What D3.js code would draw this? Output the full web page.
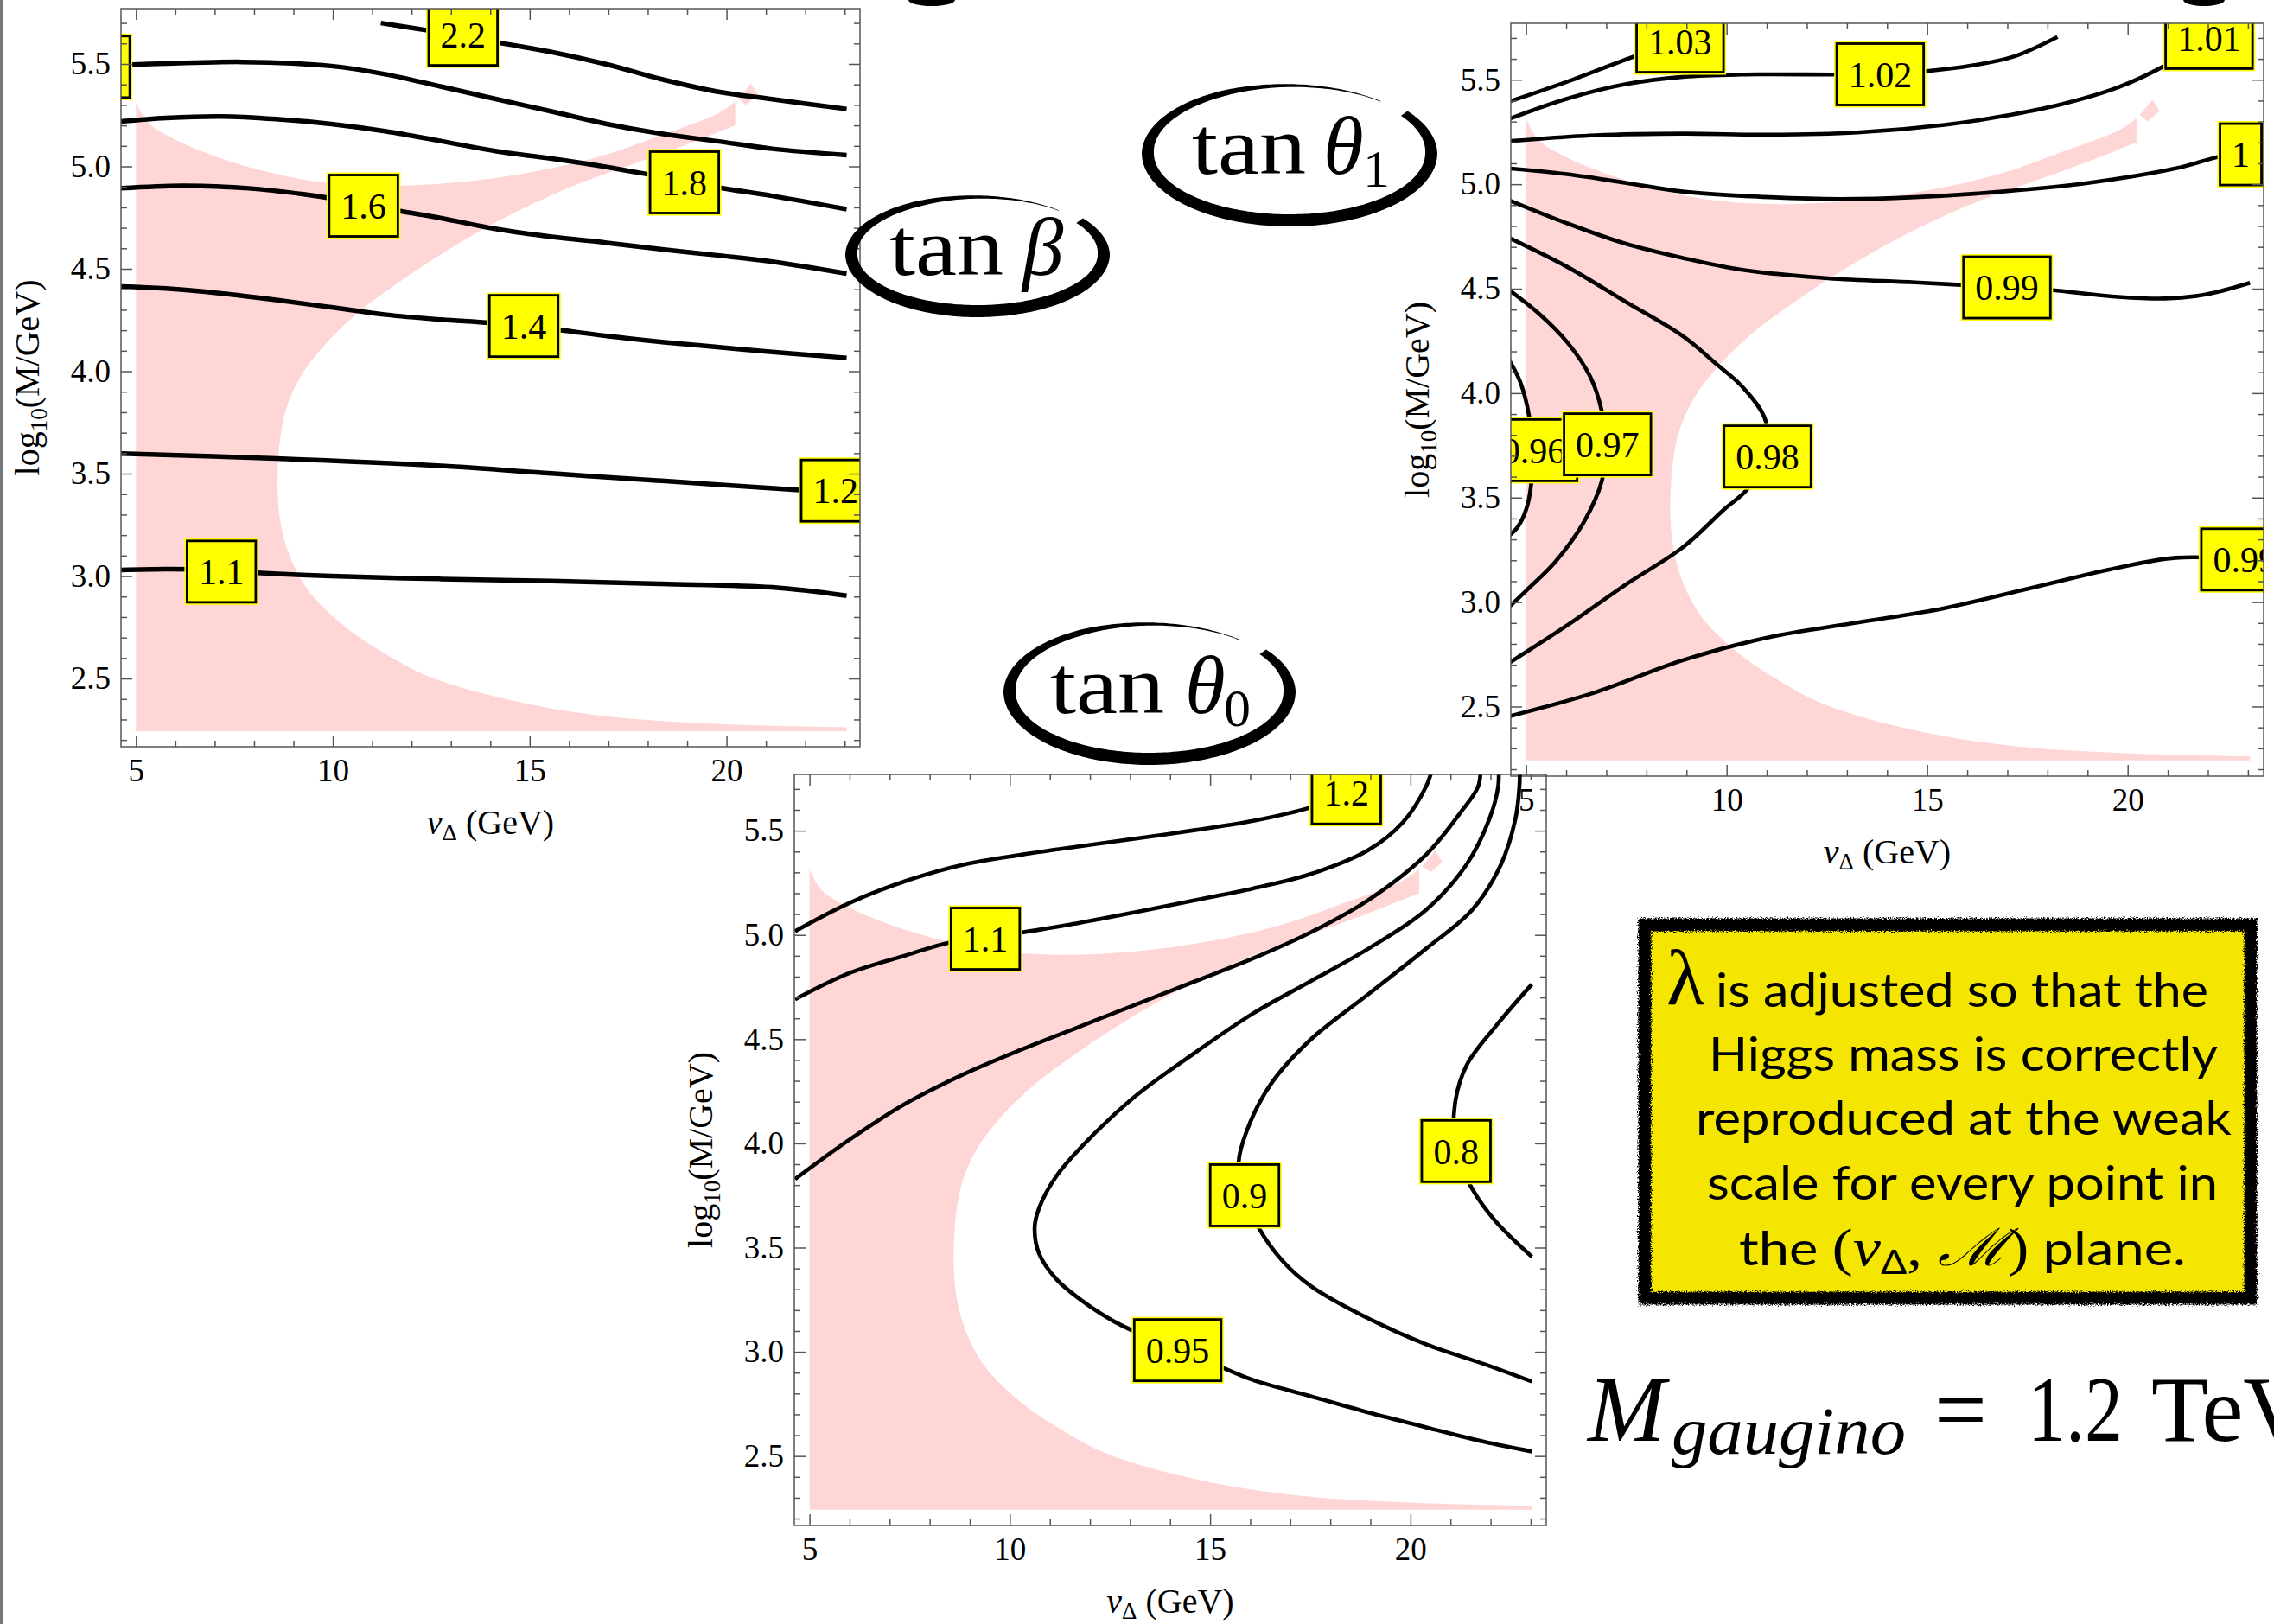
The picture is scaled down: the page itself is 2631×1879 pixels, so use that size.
<!DOCTYPE html>
<html><head><meta charset="utf-8">
<script src="https://cdn.jsdelivr.net/npm/d3@7"></script>
<style>body{margin:0;background:#fff;} svg{display:block}</style>
</head><body>
<svg id="c" width="2631" height="1879"></svg>
<script>
// ---------------- DATA ----------------
const xMajorTicks = [5, 10, 15, 20];
const yMajorTicks = [2.5, 3.0, 3.5, 4.0, 4.5, 5.0, 5.5];
const xDomain = [4.62, 23.39];
const yDomain = [2.167, 5.77];

// allowed (pink) region, shared by the three panels, in (v_Delta, log10 M)
const regionBottom = [[5.0, 5.315], [5.0, 2.243], [23.05, 2.243], [23.05, 2.262]];
const regionInner = [[23.05, 2.262], [21.0, 2.27], [19.0, 2.285], [17.5, 2.305], [16.0, 2.34], [14.5, 2.395], [13.2, 2.46],
  [12.2, 2.53], [11.3, 2.625], [10.5, 2.725], [9.8, 2.84], [9.3, 2.95], [8.9, 3.1], [8.68, 3.25], [8.6, 3.4], [8.6, 3.5],
  [8.65, 3.65], [8.82, 3.82], [9.2, 3.98], [9.8, 4.13], [10.6, 4.28], [11.5, 4.41], [12.5, 4.54], [13.7, 4.68],
  [15.0, 4.81], [16.3, 4.92], [17.6, 5.01], [18.9, 5.1], [20.22, 5.2]];
const regionOuter = [[20.22, 5.316], [19.8, 5.26], [18.3, 5.15], [16.9, 5.055], [15.4, 4.985], [14.0, 4.94], [12.5, 4.912],
  [11.1, 4.905], [9.6, 4.925], [8.2, 4.98], [7.0, 5.05], [6.0, 5.13], [5.3, 5.215], [5.0, 5.315]];
const regionTip = [[20.3, 5.33], [20.62, 5.405], [20.8, 5.35], [20.5, 5.3]];

// tan beta panel
const tanBetaLevels = ["1.1", "1.2", "1.4", "1.6", "1.8", "2.0", "2.2"];
const tanBetaLines = [
  [[4.62,3.03],[5.76,3.034],[7.16,3.03],[8.0,3.017],[9.96,3.0],[12.76,2.986],[15.56,2.976],[18.36,2.962],[21.16,2.945],[23.05,2.904]],
  [[4.62,3.598],[8.56,3.574],[12.76,3.538],[15.56,3.501],[18.36,3.465],[21.86,3.42],[23.05,3.405]],
  [[4.62,4.414],[5.76,4.404],[7.16,4.38],[8.56,4.348],[9.96,4.312],[11.36,4.276],[12.76,4.252],[14.02,4.235],[15.7,4.203],[16.96,4.172],[18.36,4.143],[19.76,4.118],[21.16,4.094],[23.05,4.065]],
  [[4.62,4.893],[6.18,4.905],[7.86,4.893],[9.26,4.864],[9.96,4.844],[11.64,4.784],[12.76,4.747],[14.16,4.694],[15.56,4.656],[16.96,4.627],[18.36,4.595],[19.76,4.566],[21.16,4.535],[23.05,4.477]],
  [[4.62,5.219],[5.76,5.236],[7.16,5.244],[8.56,5.231],[9.96,5.207],[11.36,5.171],[12.76,5.123],[14.16,5.074],[15.56,5.038],[16.96,4.997],[18.08,4.958],[19.76,4.898],[21.16,4.856],[23.05,4.791]],
  [[4.62,5.495],[5.76,5.502],[7.72,5.51],[9.96,5.49],[11.36,5.449],[12.76,5.389],[14.16,5.328],[15.56,5.268],[16.96,5.207],[18.36,5.159],[19.76,5.123],[21.16,5.086],[23.05,5.055]],
  [[11.22,5.70],[12.48,5.662],[13.31,5.64],[14.16,5.606],[15.56,5.558],[16.96,5.498],[18.36,5.425],[19.76,5.365],[21.16,5.328],[23.05,5.28]]
];
const tanBetaLabelPos = [[7.17,3.022],[22.77,3.417],[14.85,4.221],[10.78,4.808],[18.93,4.922],[3.97,5.486],[13.31,5.643]];

// tan theta1 panel
const tanTheta1Levels = ["1.03", "1.02", "1.01", "1", "0.99", "0.98", "0.96", "0.97", "0.99"];
const tanTheta1Lines = [
  [[4.57,5.395],[6.02,5.49],[7.76,5.616],[8.84,5.683],[9.5,5.73]],
  [[4.57,5.312],[6.02,5.409],[7.47,5.478],[8.91,5.514],[10.36,5.525],[12.75,5.525],[13.83,5.526],[14.89,5.539],[16.15,5.569],[17.16,5.611],[18.25,5.705]],
  [[4.57,5.206],[6.74,5.234],[8.91,5.242],[11.09,5.237],[13.26,5.248],[15.43,5.284],[16.87,5.325],[18.32,5.381],[19.77,5.464],[21.0,5.575],[22.03,5.70]],
  [[4.57,5.076],[6.02,5.048],[7.47,5.007],[8.91,4.965],[11.09,4.938],[12.82,4.929],[14.7,4.938],[16.87,4.965],[19.04,5.007],[21.2,5.076],[22.3,5.132],[22.82,5.143]],
  [[4.57,4.924],[6.02,4.813],[7.47,4.716],[8.91,4.647],[10.36,4.591],[12.53,4.55],[14.7,4.53],[16.99,4.506],[18.06,4.494],[19.77,4.461],[20.93,4.453],[21.94,4.472],[23.05,4.528]],
  [[4.57,4.744],[6.02,4.605],[7.47,4.439],[8.91,4.273],[9.78,4.134],[10.36,4.037],[10.94,3.885],[11.05,3.72],[10.51,3.539],[9.93,3.442],[8.91,3.262],[7.47,3.082],[6.02,2.888],[4.57,2.708]],
  [[4.57,4.162],[4.86,4.051],[5.08,3.885],[5.15,3.724],[5.12,3.553],[5.0,3.442],[4.79,3.359],[4.57,3.317]],
  [[4.57,4.494],[5.3,4.384],[6.02,4.245],[6.6,4.079],[6.89,3.913],[6.99,3.755],[6.89,3.58],[6.45,3.386],[5.73,3.193],[5.0,3.054],[4.57,2.976]],
  [[4.57,2.453],[6.74,2.569],[8.91,2.722],[11.09,2.833],[13.26,2.902],[15.43,2.971],[17.6,3.068],[19.77,3.165],[21.2,3.212],[22.92,3.204]]
];
const tanTheta1LabelPos = [[8.84,5.683],[13.83,5.526],[22.03,5.70],[22.82,5.143],[16.99,4.506],[11.02,3.697],[5.19,3.727],[7.03,3.755],[22.92,3.204]];

// tan theta0 panel
const tanTheta0Levels = ["1.2", "1.1", "1", "0.95", "0.9", "0.8"];
const tanTheta0Lines = [
  [[4.64,5.018],[5.98,5.152],[7.42,5.26],[8.86,5.338],[10.3,5.385],[11.74,5.425],[13.18,5.463],[14.63,5.503],[16.07,5.547],[17.51,5.612],[18.4,5.68]],
  [[4.64,4.691],[5.98,4.816],[7.42,4.903],[8.53,4.965],[9.39,4.98],[10.27,5.01],[11.74,5.058],[13.18,5.111],[14.63,5.167],[16.07,5.223],[17.51,5.292],[18.95,5.407],[19.81,5.54],[20.39,5.712],[20.55,5.8]],
  [[4.64,3.829],[5.98,4.016],[7.42,4.193],[8.86,4.333],[10.3,4.451],[11.74,4.56],[13.18,4.669],[14.63,4.778],[16.07,4.887],[17.51,5.012],[18.95,5.167],[20.39,5.385],[21.25,5.587],[21.69,5.712],[21.75,5.8]],
  [[22.2,5.8],[22.19,5.712],[21.97,5.556],[21.4,5.338],[20.39,5.12],[18.95,4.934],[17.51,4.778],[16.07,4.623],[14.63,4.436],[13.18,4.234],[12.03,4.031],[11.17,3.845],[10.73,3.689],[10.62,3.596],[10.73,3.471],[11.17,3.347],[11.74,3.254],[12.61,3.145],[14.19,3.008],[15.27,2.927],[16.07,2.865],[17.51,2.787],[18.95,2.709],[20.39,2.638],[21.83,2.569],[23.03,2.522]],
  [[22.73,5.8],[22.72,5.712],[22.62,5.556],[22.26,5.338],[21.54,5.12],[20.39,4.934],[18.95,4.716],[17.51,4.498],[16.5,4.28],[15.92,4.063],[15.71,3.907],[15.86,3.751],[16.21,3.596],[16.79,3.44],[17.51,3.316],[18.95,3.16],[20.39,3.036],[21.83,2.942],[23.03,2.858]],
  [[23.03,4.763],[22.12,4.56],[21.4,4.374],[21.11,4.187],[21.14,3.963],[21.54,3.782],[22.12,3.627],[23.03,3.456]]
];
const tanTheta0LabelPos = [[18.4,5.68],[9.39,4.982],null,[14.19,3.008],[15.86,3.751],[21.14,3.963]];

const noteLines = ["is adjusted so that the", "Higgs mass is correctly", "reproduced at the weak", "scale for every point in"];

// ---------------- DRAW ----------------
const svg = d3.select('#c');
const defs = svg.append('defs');
const f = defs.append('filter').attr('id','rough').attr('x','-5%').attr('y','-5%').attr('width','110%').attr('height','110%');
f.append('feTurbulence').attr('type','fractalNoise').attr('baseFrequency','0.7').attr('numOctaves',2).attr('result','n');
f.append('feDisplacementMap').attr('in','SourceGraphic').attr('in2','n').attr('scale',8).attr('xChannelSelector','R').attr('yChannelSelector','G');

svg.append('rect').attr('x',0).attr('y',0).attr('width',3).attr('height',1879).attr('fill','#777');

const PINK = '#ffd6d6';
const SERIF = "'Liberation Serif','Times New Roman',serif";
const xMinor = d3.range(5, 24, 1).filter(v => !xMajorTicks.includes(v));
const yMinor = d3.range(22, 58).map(v => v / 10).filter(v => Math.round(v * 10) % 5 !== 0);

function drawPanel(p) {
  const x = d3.scaleLinear().domain(xDomain).range([p.x0, p.x1]);
  const y = d3.scaleLinear().domain(yDomain).range([p.y1, p.y0]);
  const g = svg.append('g');
  const cid = 'clip' + p.id;
  defs.append('clipPath').attr('id', cid).append('rect')
    .attr('x', p.x0).attr('y', p.y0).attr('width', p.x1 - p.x0).attr('height', p.y1 - p.y0);
  const inner = g.append('g').attr('clip-path', `url(#${cid})`);

  const lin = d3.line().x(d => x(d[0])).y(d => y(d[1]));
  const cur = d3.line().x(d => x(d[0])).y(d => y(d[1])).curve(d3.curveCatmullRom.alpha(0.5));
  const regionD = lin(regionBottom) + cur(regionInner).replace(/^M/, 'L') + cur(regionOuter).replace(/^M/, 'L') + 'Z';
  inner.append('path').attr('d', regionD).attr('fill', PINK);
  inner.append('path').attr('d', lin(regionTip) + 'Z').attr('fill', PINK);

  p.lines.forEach(l => inner.append('path').attr('d', cur(l)).attr('fill', 'none')
    .attr('stroke', '#000').attr('stroke-width', p.lw).attr('stroke-linejoin', 'round'));

  p.labels.forEach((pos, i) => {
    if (!pos) return;
    const lg = inner.append('g');
    const cx = x(pos[0]), cy = y(pos[1]);
    const inside = cx > p.x0 && cx < p.x1;
    const t = lg.append('text').attr('x', cx).attr('y', cy).attr('dy', '0.35em')
      .attr('text-anchor', 'middle').attr('font-family', SERIF).attr('font-size', 42).text(p.levels[i]);
    const w = t.node().getComputedTextLength() + 27, h = 71;
    if (!inside) t.remove();   // label centred outside the frame: only its box edge shows
    lg.insert('rect', ':first-child').attr('x', cx - w / 2).attr('y', cy - h / 2).attr('width', w).attr('height', h)
      .attr('fill', '#ffff00').attr('stroke', '#000').attr('stroke-width', 2.8);
    lg.insert('rect', ':first-child').attr('x', cx - w / 2 - 3).attr('y', cy - h / 2 - 3).attr('width', w + 6).attr('height', h + 6)
      .attr('fill', '#ffff00');
  });

  const styleAxis = sel => {
    sel.select('.domain').remove();
    sel.selectAll('.tick line').attr('stroke', '#555').attr('stroke-width', 1.5);
    sel.attr('font-family', SERIF).attr('font-size', 37);
    sel.selectAll('.tick text').attr('fill', '#000');
  };
  const ax = (fn, vals, size, fmt, tr, pad) => g.append('g').attr('transform', tr)
    .call(fn.tickValues(vals).tickSize(size).tickPadding(pad || 0).tickFormat(fmt)).call(styleAxis);
  ax(d3.axisBottom(x), xMajorTicks, -13, d3.format('d'), `translate(0,${p.y1})`, 14);
  ax(d3.axisBottom(x), xMinor, -7, () => '', `translate(0,${p.y1})`);
  ax(d3.axisTop(x), xMajorTicks, -13, () => '', `translate(0,${p.y0})`);
  ax(d3.axisTop(x), xMinor, -7, () => '', `translate(0,${p.y0})`);
  ax(d3.axisLeft(y), yMajorTicks, -13, d3.format('.1f'), `translate(${p.x0},0)`, 12);
  ax(d3.axisLeft(y), yMinor, -7, () => '', `translate(${p.x0},0)`);
  ax(d3.axisRight(y), yMajorTicks, -13, () => '', `translate(${p.x1},0)`);
  ax(d3.axisRight(y), yMinor, -7, () => '', `translate(${p.x1},0)`);

  g.append('rect').attr('x', p.x0).attr('y', p.y0).attr('width', p.x1 - p.x0).attr('height', p.y1 - p.y0)
    .attr('fill', 'none').attr('stroke', '#555').attr('stroke-width', 1.5);

  // axis titles
  const xl = g.append('text').attr('x', (p.x0 + p.x1) / 2).attr('y', p.y1 + 101).attr('text-anchor', 'middle')
    .attr('font-family', SERIF).attr('font-size', 40);
  xl.append('tspan').attr('font-style', 'italic').text('v');
  xl.append('tspan').attr('font-size', 27).attr('dy', 7).text('Δ');
  xl.append('tspan').attr('dy', -7).text(' (GeV)');
  const yl = g.append('text').attr('transform', `translate(${p.x0 - 95},${(p.y0 + p.y1) / 2}) rotate(-90)`)
    .attr('text-anchor', 'middle').attr('font-family', SERIF).attr('font-size', 40);
  yl.append('tspan').text('log');
  yl.append('tspan').attr('font-size', 27).attr('dy', 9).text('10');
  yl.append('tspan').attr('dy', -9).text('(M/GeV)');
}

drawPanel({id: 1, x0: 140, y0: 10, x1: 995, y1: 864, lines: tanBetaLines, levels: tanBetaLevels, labels: tanBetaLabelPos, lw: 5.5});
drawPanel({id: 2, x0: 1748, y0: 27, x1: 2619, y1: 898, lines: tanTheta1Lines, levels: tanTheta1Levels, labels: tanTheta1LabelPos, lw: 4.6});
drawPanel({id: 3, x0: 919, y0: 896, x1: 1789, y1: 1765, lines: tanTheta0Lines, levels: tanTheta0Levels, labels: tanTheta0LabelPos, lw: 4.6});

// brush-stroke ellipses
function brushEllipse(cx, cy, rx, ry) {
  const a0 = -36, a1 = 310, n = 260, outer = [], inner = [];
  for (let i = 0; i <= n; i++) {
    const t = i / n, a = (a0 + t * (a1 - a0)) * Math.PI / 180;
    let w = 14 - 8 * Math.max(0, -Math.sin(a));
    if (t > 0.8) w *= Math.max(0.1, 1 - (t - 0.8) / 0.2);
    outer.push([cx + (rx + w / 2) * Math.cos(a), cy + (ry + w / 2) * Math.sin(a)]);
    inner.push([cx + (rx - w / 2) * Math.cos(a), cy + (ry - w / 2) * Math.sin(a)]);
  }
  return d3.line()(outer.concat(inner.reverse())) + 'Z';
}
function tanLabel(cx, cy, rx, ry, tx, base, sym, sx, sub, subx) {
  svg.append('path').attr('d', brushEllipse(cx, cy, rx, ry)).attr('fill', '#000');
  svg.append('text').attr('x', tx).attr('y', base).attr('font-family', SERIF).attr('font-size', 95)
    .attr('textLength', 132).attr('lengthAdjust', 'spacingAndGlyphs').text('tan');
  svg.append('text').attr('x', sx).attr('y', base).attr('font-family', SERIF).attr('font-style', 'italic')
    .attr('font-size', 95).text(sym);
  if (sub) svg.append('text').attr('x', subx).attr('y', base + 15).attr('font-family', SERIF)
    .attr('font-size', 62).text(sub);
}
tanLabel(1131, 294, 146, 66, 1029, 318, 'β', 1183, null, 0);
tanLabel(1492, 177, 164, 78, 1379, 201, 'θ', 1531, '1', 1577);
tanLabel(1330, 800, 162, 78, 1215, 825, 'θ', 1371, '0', 1416);

// note box
svg.append('rect').attr('x', 1903).attr('y', 1070).attr('width', 701).attr('height', 432).attr('fill', '#f4e600');
svg.append('rect').attr('x', 1903).attr('y', 1070).attr('width', 701).attr('height', 432).attr('fill', 'none')
  .attr('stroke', '#000').attr('stroke-width', 15).attr('filter', 'url(#rough)');
svg.append('text').attr('x', 1928).attr('y', 1162).attr('font-family', SERIF).attr('font-size', 92).text('λ');
const SANS = "Lato,'Open Sans',sans-serif";
const nlX = [1985, 1977, 1962, 1975], nlW = [570, 589, 620, 591], nlY = [1165, 1239, 1313, 1388];
noteLines.forEach((s, i) => svg.append('text').attr('x', nlX[i]).attr('y', nlY[i]).attr('font-family', SANS)
  .attr('font-size', 54).attr('textLength', nlW[i]).attr('lengthAdjust', 'spacingAndGlyphs').text(s));
const l5 = svg.append('text').attr('x', 2012).attr('y', 1464).attr('font-family', SANS).attr('font-size', 54)
  .attr('textLength', 517).attr('lengthAdjust', 'spacingAndGlyphs');
l5.append('tspan').text('the ');
l5.append('tspan').attr('font-family', SERIF).attr('font-size', 62).text('(');
l5.append('tspan').attr('font-family', SERIF).attr('font-size', 62).attr('font-style', 'italic').text('v');
l5.append('tspan').attr('font-family', SANS).attr('font-size', 38).attr('dy', 10).text('Δ');
l5.append('tspan').attr('font-family', SERIF).attr('font-size', 62).attr('dy', -10).text(', ');
l5.append('tspan').attr('font-family', "'DejaVu Serif',serif").attr('font-size', 60).attr('font-style', 'italic').text('ℳ');
l5.append('tspan').attr('font-family', SERIF).attr('font-size', 62).text(')');
l5.append('tspan').text(' plane.');

// M_gaugino = 1.2 TeV
const mg = svg.append('g').attr('font-family', SERIF).attr('font-size', 108);
mg.append('text').attr('x', 1837).attr('y', 1667).attr('font-style', 'italic').text('M');
mg.append('text').attr('x', 1934).attr('y', 1682).attr('font-style', 'italic').attr('font-size', 78)
  .attr('textLength', 271).attr('lengthAdjust', 'spacingAndGlyphs').text('gaugino');
mg.append('text').attr('x', 2238).attr('y', 1667).text('=');
mg.append('text').attr('x', 2346).attr('y', 1667).attr('textLength', 110).attr('lengthAdjust', 'spacingAndGlyphs').text('1.2');
mg.append('text').attr('x', 2489).attr('y', 1667).text('TeV');

// cut-off title glyphs at the very top
svg.append('ellipse').attr('cx', 1078).attr('cy', 0).attr('rx', 27).attr('ry', 7).attr('fill', '#000');
svg.append('ellipse').attr('cx', 2550).attr('cy', 0).attr('rx', 24).attr('ry', 7).attr('fill', '#000');
</script>
</body></html>
